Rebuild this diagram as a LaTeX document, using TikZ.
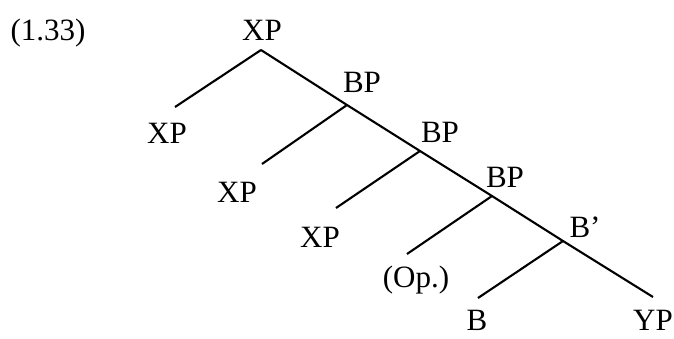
\documentclass[tikz,border=0pt]{standalone}
\usepackage{fontspec}
\setmainfont{Liberation Serif}
\begin{document}
\begin{tikzpicture}[x=1pt,y=-1pt,
  lbl/.style={anchor=base,inner sep=0pt,font=\fontsize{31}{37}\selectfont},
  branch/.style={line width=2.1pt}]
\useasboundingbox (0,0) rectangle (674,338);
% labels
\node[lbl] (ex) at (48,40) {(1.33)};
\node[lbl] (xp0) at (262,40) {XP};
\node[lbl] (xp1) at (167,143) {XP};
\node[lbl] (bp1) at (362,92) {BP};
\node[lbl] (xp2) at (237,202) {XP};
\node[lbl] (bp2) at (440,142) {BP};
\node[lbl] (xp3) at (320,247) {XP};
\node[lbl] (bp3) at (505,187) {BP};
\node[lbl] (op) at (416,287) {(Op.)};
\node[lbl] (bbar) at (585,237) {B’};
\node[lbl] (b) at (477,330) {B};
\node[lbl] (yp) at (653,330) {YP};
% branch points and ends
\coordinate (r0) at (261,50);
\coordinate (r1) at (347,105);
\coordinate (r2) at (420,151);
\coordinate (r3) at (492,196);
\coordinate (r4) at (563,241);
\coordinate (e0) at (175,107);
\coordinate (e1) at (262,164);
\coordinate (e2) at (336,208);
\coordinate (e3) at (407,254);
\coordinate (e4) at (478,298);
\coordinate (e5) at (653,297);
\draw[branch] (r0) -- (r1) -- (r2) -- (r3) -- (r4) -- (e5);
\draw[branch] (r0) -- (e0);
\draw[branch] (r1) -- (e1);
\draw[branch] (r2) -- (e2);
\draw[branch] (r3) -- (e3);
\draw[branch] (r4) -- (e4);
\end{tikzpicture}
\end{document}
